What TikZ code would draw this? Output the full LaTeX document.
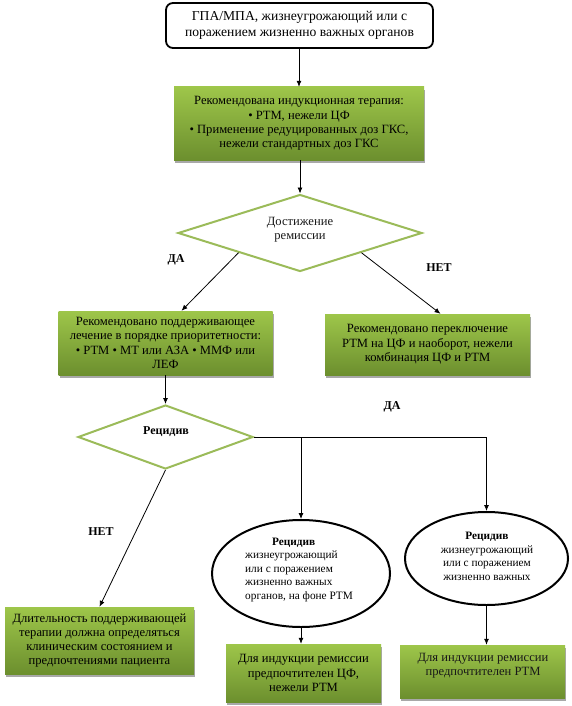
\documentclass[tikz,border=0pt]{standalone}
\usepackage{fontspec}
\setmainfont{Liberation Serif}
\usetikzlibrary{arrows.meta,shapes.geometric,shadows,calc}
\definecolor{gtop}{RGB}{158,198,74}
\definecolor{gbot}{RGB}{108,143,46}
\definecolor{dline}{RGB}{155,187,89}
\begin{document}
\begin{tikzpicture}[x=1pt,y=-1pt,
  txt/.style={align=center, font=\fontsize{12.6}{14.3}\selectfont, inner sep=0pt, text=black!90},
  smalltxt/.style={font=\fontsize{11.3}{13.5}\selectfont, inner sep=0pt},
  lbl/.style={font=\bfseries\fontsize{12}{14}\selectfont, inner sep=0pt},
  gbox/.style={rectangle, top color=gtop, bottom color=gbot, draw=none, inner sep=0pt, align=center,
     font=\fontsize{12.6}{14.3}\selectfont,
     drop shadow={shadow xshift=1pt, shadow yshift=-3pt, fill=black!45, opacity=0.75}},
  topbox/.style={rectangle, rounded corners=7pt, draw=black, line width=1.8pt, fill=white, inner sep=0pt, align=center,
     font=\fontsize{13.6}{16}\selectfont},
  dmd/.style={diamond, aspect=3, draw=dline, line width=2pt, fill=white, inner sep=0pt},
  ell/.style={ellipse, draw=black, line width=2pt, fill=white, inner sep=0pt},
  arr/.style={-{Latex[length=6pt,width=5pt]}, line width=0.8pt, draw=black}
]
\useasboundingbox[fill=white] (0,0) rectangle (571,706);

% nodes
\node[topbox, minimum width=267pt, minimum height=45pt] (top) at (299.5,25.5)
  {ГПА/МПА, жизнеугрожающий или с\\поражением жизненно важных органов};

\node[gbox, minimum width=250pt, minimum height=73pt] (g1) at (299,123.5)
  {Рекомендована индукционная терапия:\\• РТМ, нежели ЦФ\\• Применение редуцированных доз ГКС,\\нежели стандартных доз ГКС};

\node[dmd, minimum width=244pt, minimum height=77pt] (d1) at (300,233) {};
\node[txt] (d1t) at (300,230) {Достижение\\ремиссии};

\node[lbl] (da1) at (176,260) {ДА};
\node[lbl] (net1) at (439,268) {НЕТ};

\node[gbox, minimum width=214pt, minimum height=64pt] (l) at (165.5,343)
  {Рекомендовано поддерживающее\\лечение в порядке приоритетности:\\• РТМ • МТ или АЗА • ММФ или\\ЛЕФ};

\node[gbox, minimum width=205pt, minimum height=61pt] (r) at (427.5,344.5)
  {Рекомендовано переключение\\РТМ на ЦФ и наоборот, нежели\\комбинация ЦФ и РТМ};

\node[dmd, minimum width=175pt, minimum height=64pt] (d2) at (165.5,437) {};
\node[lbl] (d2t) at (166,432) {Рецидив};

\node[lbl] (da2) at (392,407) {ДА};
\node[lbl] (net2) at (101,532) {НЕТ};

\node[ell, minimum width=178pt, minimum height=107pt] (e1) at (301,573.5) {};
\node[smalltxt, align=left, anchor=west] (e1t) at (245,569.5)
  {\hspace*{27pt}\textbf{Рецидив}\\жизнеугрожающий\\или с поражением\\жизненно важных\\органов, на фоне РТМ};

\node[ell, minimum width=163pt, minimum height=93pt] (e2) at (486.5,558.5) {};
\node[smalltxt, align=center] (e2t) at (487,556.5)
  {\textbf{Рецидив}\\жизнеугрожающий\\или с поражением\\жизненно важных};

\node[gbox, minimum width=189pt, minimum height=67pt] (bl) at (99.5,640.5)
  {Длительность поддерживающей\\терапии должна определяться\\клиническим состоянием и\\предпочтениями пациента};

\node[gbox, minimum width=155pt, minimum height=58pt] (bm) at (303.5,673)
  {Для индукции ремиссии\\предпочтителен ЦФ,\\нежели РТМ};

\node[gbox, minimum width=165pt, minimum height=53pt] (br) at (482.5,671.5) {};
\node[txt] (brt) at (483,665.5) {Для индукции ремиссии\\предпочтителен РТМ};

% connectors
\draw[arr] (top.south -| g1.north) -- (g1.north);
\draw[arr] (g1.south -| d1.north) -- (d1.north);
\draw[arr] (d1.south west) -- ([xshift=16pt]l.north);
\draw[arr] (d1.south east) -- ([xshift=13pt]r.north);
\draw[arr] (l.south) -- (d2.north);
\draw[arr] (d2.east) -| (e2.north);
\draw[arr] (d2.east -| e1.north) -- (e1.north);
\draw[arr] (d2.south) -- (bl.north);
\draw[arr] (e1.south) -- (e1.south |- bm.north);
\draw[arr] (e2.south) -- (e2.south |- br.north);
\end{tikzpicture}
\end{document}
